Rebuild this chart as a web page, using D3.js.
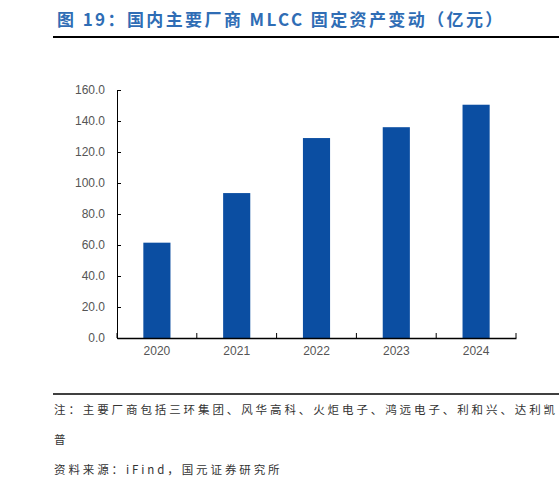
<!DOCTYPE html><html><head><meta charset="utf-8"><script src="https://cdn.jsdelivr.net/npm/d3@7"></script>
<style>body{margin:0;background:#fff}</style></head><body><svg id="c" width="559" height="492"></svg>
<script>
const categories=["2020","2021","2022","2023","2024"];
const values=[61.5,93.5,129,136,150.5];
const yTicks=[0,20,40,60,80,100,120,140,160];
const svg=d3.select("#c");
const cjk="'Noto Sans CJK SC',sans-serif";
svg.append("text").attr("x",57).attr("y",26).attr("fill","#2f6db5").attr("font-family",cjk).attr("font-weight","bold").attr("font-size",17).attr("letter-spacing",2.4).text("图 19：国内主要厂商 MLCC 固定资产变动（亿元）");
svg.append("line").attr("x1",53).attr("x2",559).attr("y1",37).attr("y2",37).attr("stroke","#000").attr("stroke-width",2);
const x=d3.scaleBand().domain(categories).range([117,516]).paddingInner(0.66).paddingOuter(0.33);
const y=d3.scaleLinear().domain([0,160]).range([338,90]);
svg.selectAll("rect").data(values).join("rect").attr("x",(d,i)=>x(categories[i])).attr("width",x.bandwidth()).attr("y",d=>y(d)).attr("height",d=>338-y(d)).attr("fill","#0b4ea2");
const ya=svg.append("g").attr("transform","translate(117,0)").call(d3.axisLeft(y).tickValues(yTicks).tickFormat(d3.format(".1f")).tickSizeInner(-4).tickSizeOuter(0));
ya.selectAll("text").attr("x",-12).attr("font-family","Liberation Sans, Arial").attr("font-size",12).attr("fill","#555");
ya.select(".domain").attr("stroke","#000");ya.selectAll("line").attr("stroke","#000");
const xa=svg.append("g").attr("transform","translate(0,338)").call(d3.axisBottom(x).tickSize(0).tickSizeOuter(0));
xa.selectAll("text").attr("dy",14).attr("font-family","Liberation Sans, Arial").attr("font-size",12).attr("fill","#555");
xa.select(".domain").attr("stroke","#000").attr("stroke-width",1.3);
const step=x.step();
[0,1,2,3,4,5].forEach(i=>{const px=117+step*i;svg.append("line").attr("x1",px).attr("x2",px).attr("y1",338).attr("y2",333).attr("stroke","#000");});
svg.append("line").attr("x1",53).attr("x2",559).attr("y1",394).attr("y2",394).attr("stroke","#000").attr("stroke-width",1.5);
const notes=[["注：主要厂商包括三环集团、风华高科、火炬电子、鸿远电子、利和兴、达利凯",414],["普",444],["资料来源：iFind，国元证券研究所",474]];
notes.forEach(([t,yy])=>svg.append("text").attr("x",54).attr("y",yy).attr("font-family",cjk).attr("font-size",11.5).attr("letter-spacing",2.9).attr("fill","#333").text(t));
</script></body></html>
